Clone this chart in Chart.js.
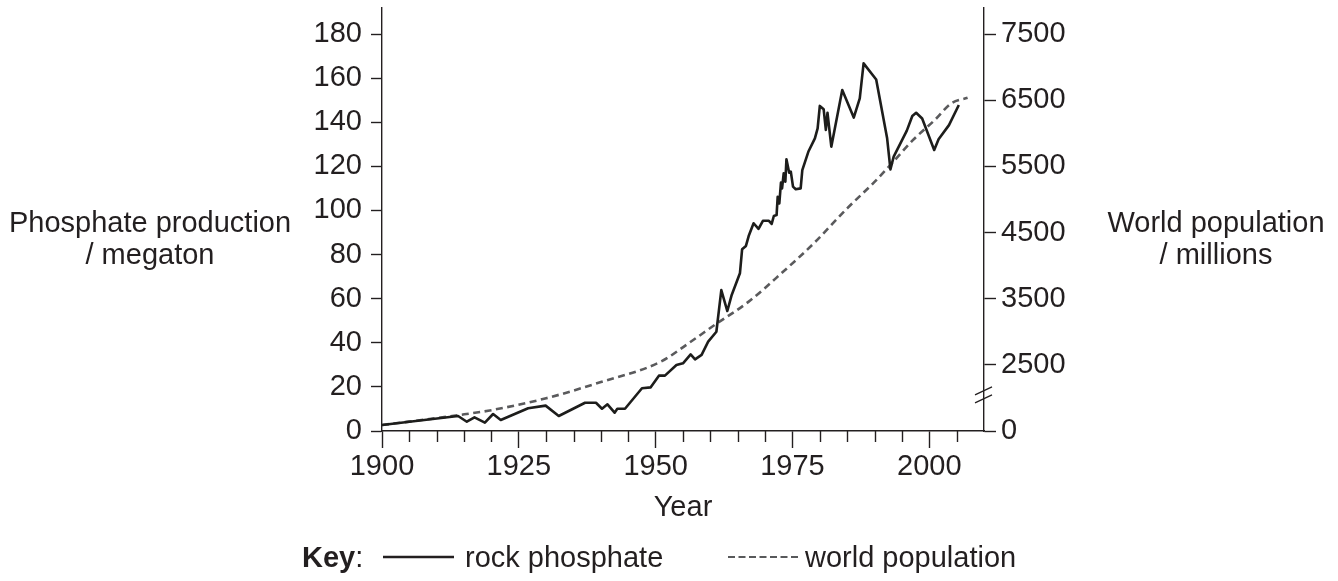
<!DOCTYPE html>
<html>
<head>
<meta charset="utf-8">
<script src="https://cdn.jsdelivr.net/npm/chart.js@4/dist/chart.umd.min.js"></script>
<style>
html,body{margin:0;padding:0;background:#fff;}
#wrap{position:relative;width:1338px;height:581px;font-family:"Liberation Sans",Arial,sans-serif;color:#231f20;overflow:hidden;}
#c{position:absolute;left:0;top:0;}
.t{position:absolute;font-size:29px;line-height:32px;text-align:center;white-space:nowrap;}
#key{position:absolute;left:302px;top:541px;height:32px;font-size:29px;line-height:32px;white-space:nowrap;}
#key span,#key svg{position:absolute;top:0;}
</style>
</head>
<body>
<div id="wrap">
  <canvas id="c" width="1338" height="581"></canvas>
  <div class="t" style="left:0;width:300px;top:206px;">Phosphate production<br>/ megaton</div>
  <div class="t" style="left:1088px;width:256px;top:206px;">World population<br>/ millions</div>
  <div class="t" style="left:583px;width:200px;top:490px;">Year</div>
  <div id="key">
    <span style="left:0"><b>Key</b>:</span>
    <svg style="left:81px;top:0" width="72" height="32"><line x1="0" y1="16" x2="71" y2="16" stroke="#231f20" stroke-width="2.5"/></svg>
    <span style="left:163px">rock phosphate</span>
    <svg style="left:426px;top:0" width="74" height="32"><line x1="0" y1="16" x2="73" y2="16" stroke="#58595b" stroke-width="2" stroke-dasharray="7,3.5"/></svg>
    <span style="left:503px">world population</span>
  </div>
</div>
<script>
// ---- data ----
const phosYears = [1900,1913.9,1915.5,1916.9,1918.8,1920.3,1921.7,1926.7,1929.9,1932.3,1937.1,1939.1,1940.2,1941.2,1942.5,1943,1944.4,1947.5,1949.1,1950.6,1951.7,1953.8,1955,1956.4,1957.2,1958.4,1959.6,1961.1,1962.0,1963.1,1963.9,1965.4,1965.8,1966.5,1967,1967.9,1968.8,1969.6,1970.7,1971.2,1971.6,1972.1,1972.3,1972.6,1972.9,1973.1,1973.4,1973.7,1973.9,1974.4,1974.7,1975.1,1975.6,1976.5,1976.8,1977.9,1979.1,1979.6,1980,1980.7,1981.1,1981.4,1982.1,1984.1,1986.2,1987.3,1988,1990.3,1992.3,1992.9,1993.5,1995.9,1996.9,1997.6,1998.7,2000.9,2001.7,2003.6,2005.4];
const phosValues = [2.7,6.8,4.2,6.2,3.8,7.7,5.0,10.3,11.5,6.8,12.8,12.8,10.1,12.1,8.3,10.1,10.1,19.4,19.8,25.1,25.1,29.9,30.7,34.7,32.5,34.5,40.5,45.0,63.9,54.4,61.7,71.5,82.4,83.9,88.4,94.2,91.7,95.3,95.3,93.9,97.5,97.9,106.2,103.2,112.6,110.0,116.8,113.0,123.2,117.1,117.6,110.8,109.6,110.0,118.3,126.6,132.7,137.2,147.4,145.9,136.5,144.3,128.9,154.6,142.1,150.8,166.7,159.4,132.7,118.6,124.4,136.2,142.8,144.3,141.7,127.4,132.3,138.7,147.8];
// world population as plotted on the (broken) right axis, millions
const popYears = [1900,1914,1920,1930,1940,1951,1956,1961,1967,1973,1979,1985,1990,1993,1997,2001,2004,2007];
const popValues = [1590,1740,1815,1995,2240,2550,2825,3115,3455,3885,4345,4865,5265,5530,5895,6200,6450,6535];
// axes
const xMajorTicks = [1900,1925,1950,1975,2000];
const xMinorTicks = [1905,1910,1915,1920,1930,1935,1940,1945,1955,1960,1965,1970,1980,1985,1990,1995,2005];
const leftTicks = [0,20,40,60,80,100,120,140,160,180];
const rightTicks = [1500,2500,3500,4500,5500,6500,7500];
const rightTickLabels = ['0','2500','3500','4500','5500','6500','7500'];

const INK = '#231f20';
const FONT = {family:'"Liberation Sans", Arial, sans-serif', size:29};

const phosData = phosYears.map((x,i)=>({x, y: phosValues[i]}));
const popData = popYears.map((x,i)=>({x, y: popValues[i]}));

const extras = {
  id:'extras',
  afterDraw(chart){
    const ctx = chart.ctx, xs = chart.scales.x, yr = chart.scales.y2;
    const bottom = chart.chartArea.bottom;
    ctx.save();
    ctx.strokeStyle = INK; ctx.lineWidth = 1.4;
    // minor x ticks
    xMinorTicks.forEach(v=>{
      const px = Math.round(xs.getPixelForValue(v)) + 0.5;
      ctx.beginPath(); ctx.moveTo(px, bottom); ctx.lineTo(px, bottom + 11); ctx.stroke();
    });
    // axis break marks on the right axis
    const ax = chart.chartArea.right;
    const yb = (yr.getPixelForValue(1500) + yr.getPixelForValue(2500)) / 2 - 3;
    ctx.lineWidth = 1.3;
    [-4, 4].forEach(d=>{
      ctx.beginPath();
      ctx.moveTo(ax - 9, yb + d + 4);
      ctx.lineTo(ax + 8, yb + d - 4);
      ctx.stroke();
    });
    ctx.restore();
  }
};

function zeroPad(scale){ scale.paddingTop = 0; scale.paddingBottom = 0; scale.paddingLeft = 0; scale.paddingRight = 0; }

new Chart(document.getElementById('c'), {
  type:'line',
  data:{ datasets:[
    { label:'rock phosphate', data: phosData, yAxisID:'y', borderColor:'#1d1d1b', borderWidth:2.6, pointRadius:0, tension:0, fill:false, borderJoinStyle:'round' },
    { label:'world population', data: popData, yAxisID:'y2', borderColor:'#5a5a5c', borderWidth:2.6, borderDash:[7,4.5], pointRadius:0, cubicInterpolationMode:'monotone', fill:false }
  ]},
  options:{
    responsive:false, animation:false, devicePixelRatio:1,
    layout:{ padding:{ top:8, left:0, right:0, bottom:0 } },
    plugins:{ legend:{display:false}, tooltip:{enabled:false} },
    scales:{
      x:{
        type:'linear', min:1900, max:2010,
        afterBuildTicks(s){ s.ticks = xMajorTicks.map(v=>({value:v})); },
        afterFit(s){ s.height = 150; zeroPad(s); },
        ticks:{ autoSkip:false, maxRotation:0, color:INK, font:FONT, padding:2, callback:v=>String(v) },
        grid:{ display:true, drawOnChartArea:false, tickLength:17, tickColor:INK, tickWidth:1.4 },
        border:{ display:true, color:INK, width:1.4 }
      },
      y:{
        type:'linear', position:'left', min:0, max:191.8,
        afterBuildTicks(s){ s.ticks = leftTicks.map(v=>({value:v})); },
        afterFit(s){ s.width = 382; zeroPad(s); },
        ticks:{ color:INK, font:FONT, padding:9, callback:v=>String(v) },
        grid:{ drawOnChartArea:false, tickLength:11, tickColor:INK, tickWidth:1.4 },
        border:{ display:true, color:INK, width:1.4 }
      },
      y2:{
        type:'linear', position:'right', min:1500, max:7893,
        afterBuildTicks(s){ s.ticks = rightTicks.map(v=>({value:v})); },
        afterFit(s){ s.width = 354; zeroPad(s); },
        ticks:{ color:INK, font:FONT, padding:5, callback:v=>rightTickLabels[rightTicks.indexOf(v)] },
        grid:{ drawOnChartArea:false, tickLength:12, tickColor:INK, tickWidth:1.4 },
        border:{ display:true, color:INK, width:1.4 }
      }
    }
  },
  plugins:[extras]
});
</script>
</body>
</html>
